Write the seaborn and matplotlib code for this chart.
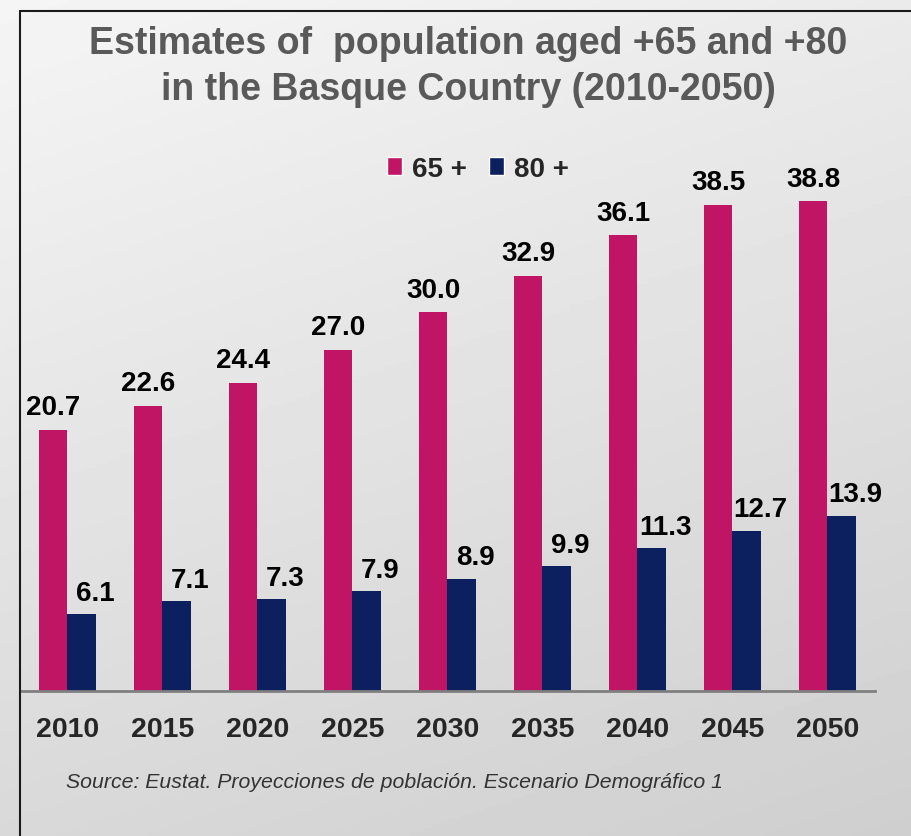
import numpy as np
import pandas as pd
import matplotlib.pyplot as plt
import seaborn as sns

years = ["2010", "2015", "2020", "2025", "2030", "2035", "2040", "2045", "2050"]
aged_65 = [20.7, 22.6, 24.4, 27.0, 30.0, 32.9, 36.1, 38.5, 38.8]
aged_80 = [6.1, 7.1, 7.3, 7.9, 8.9, 9.9, 11.3, 12.7, 13.9]
series = ["65 +", "80 +"]

df = pd.DataFrame({
    "year": years * 2,
    "value": aged_65 + aged_80,
    "group": [series[0]] * len(years) + [series[1]] * len(years),
})

sns.set_style("white")
plt.rcParams["font.family"] = ["Liberation Sans", "DejaVu Sans"]

fig = plt.figure(figsize=(9.12, 8.37), dpi=100)

# light grey gradient background
bg = fig.add_axes([0, 0, 1, 1], zorder=-10)
yy, xx = np.mgrid[0:1:200j, 0:1:200j]
grad = 0.96 - 0.11 * yy - 0.04 * xx
bg.imshow(grad, cmap="gray", vmin=0, vmax=1, aspect="auto", extent=[0, 1, 0, 1])
bg.axis("off")
# frame lines top / left
fig.add_artist(plt.Line2D([20 / 912, 20 / 912], [0, 1 - 12 / 837], color="#1a1a1a", lw=1.5))
fig.add_artist(plt.Line2D([20 / 912, 1], [1 - 12 / 837, 1 - 12 / 837], color="#1a1a1a", lw=1.5))

ax = fig.add_axes([20 / 912, 145 / 837, 855 / 912, 568 / 837])
ax.patch.set_alpha(0)
colors = {"65 +": "#C01464", "80 +": "#0C1F5E"}
sns.barplot(data=df, x="year", y="value", hue="group", palette=colors,
            width=0.59, saturation=1, linewidth=0, ax=ax, legend=True)

ax.bar_label(ax.containers[0], fmt="%.1f", padding=7, fontsize=20, fontweight="bold", color="black")
navy_labels = ax.bar_label(ax.containers[1], fmt="%.1f", padding=7, fontsize=20,
                           fontweight="bold", color="black")
# the +80 labels sit a bit to the right of their bars
for lab in navy_labels:
    lab.xyann = (10, 6)

ax.set_xlim(-0.5, 8.5)
ax.set_ylim(0, 45)
ax.set_xlabel("")
ax.set_ylabel("")
ax.set_yticks([])
ax.tick_params(axis="x", length=0, pad=18)
for t in ax.get_xticklabels():
    t.set_fontsize(20.5)
    t.set_fontweight("bold")
for s in ["top", "right", "left"]:
    ax.spines[s].set_visible(False)
ax.spines["bottom"].set_color("#7f7f7f")
ax.spines["bottom"].set_linewidth(2)

leg = ax.legend(loc="center", bbox_to_anchor=(458 / 855, (692 - 170) / 568), ncol=2,
                frameon=False, handlelength=0.55, handleheight=0.6, handletextpad=0.35,
                columnspacing=0.8, prop={"weight": "bold", "size": 20})
for h in leg.legend_handles:
    h.set_edgecolor("white")
    h.set_linewidth(1)

fig.text(468 / 912, 1 - 67 / 837,
         "Estimates of  population aged +65 and +80\nin the Basque Country (2010-2050)",
         ha="center", va="center", fontsize=27, fontweight="bold", color="#595959",
         linespacing=1.35)

fig.text(66 / 912, 1 - 783 / 837,
         "Source: Eustat. Proyecciones de población. Escenario Demográfico 1",
         ha="left", va="center", fontsize=15.3, fontstyle="italic", color="#333333")

fig.savefig("out.png", dpi=100)
